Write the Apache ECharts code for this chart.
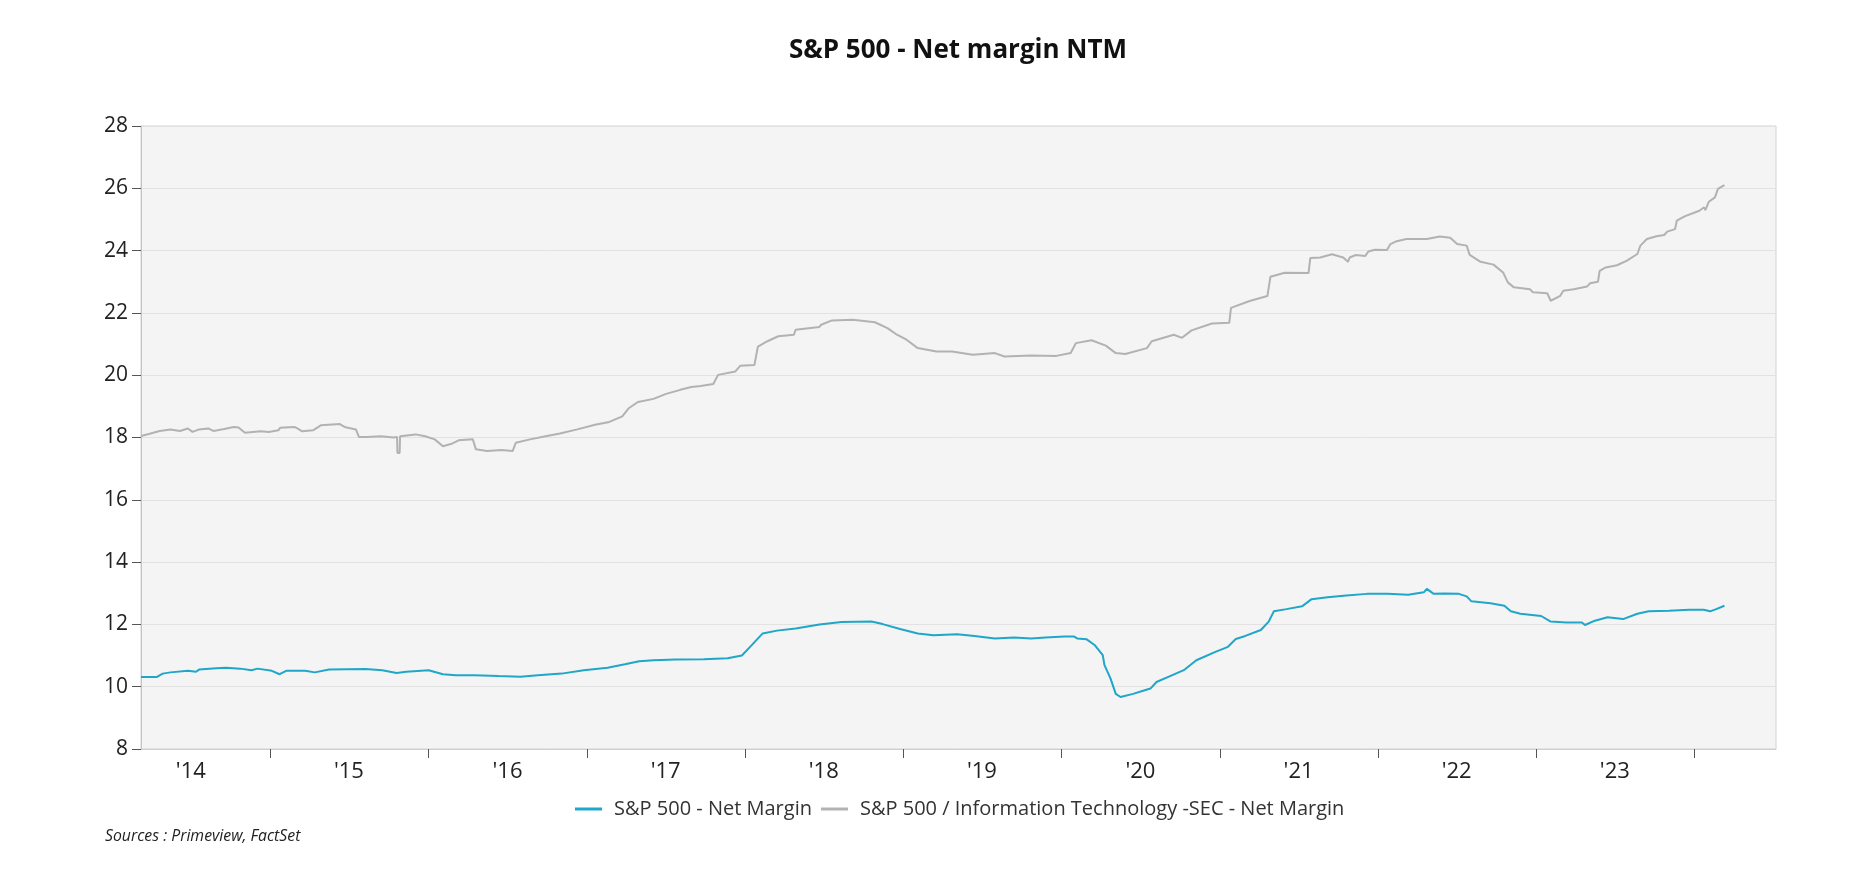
<!DOCTYPE html>
<html>
<head>
<meta charset="utf-8">
<script src="https://cdn.jsdelivr.net/npm/echarts@6/dist/echarts.min.js"></script>
<style>
html,body{margin:0;padding:0;background:#fff;}
#chart{width:1876px;height:886px;}
</style>
</head>
<body>
<div id="chart"></div>
<script>
// ---- Data ----
const titleText = 'S&P 500 - Net margin NTM';
const sourceText = 'Sources : Primeview, FactSet';
const seriesNames = ['S&P 500 - Net Margin', 'S&P 500 / Information Technology -SEC - Net Margin'];

const spDates = [
'2014-03-08','2014-04-13','2014-04-27','2014-05-15','2014-06-24','2014-07-13','2014-07-20','2014-08-29','2014-09-20','2014-10-23','2014-11-18','2014-12-02',
'2015-01-04','2015-01-22','2015-02-06','2015-03-22','2015-04-13','2015-05-16','2015-08-08','2015-09-16','2015-10-19','2015-11-10',
'2016-01-01','2016-02-03','2016-03-04','2016-04-16','2016-06-10','2016-07-31','2016-09-09','2016-11-03','2016-12-24',
'2017-02-17','2017-03-29','2017-05-01','2017-06-03','2017-07-24','2017-09-27','2017-11-21','2017-12-24',
'2018-01-12','2018-02-10','2018-03-15','2018-04-27','2018-06-21','2018-08-11','2018-10-19','2018-11-14','2018-12-24',
'2019-02-03','2019-03-11','2019-05-05','2019-06-14','2019-07-31','2019-09-13','2019-10-23','2019-11-25',
'2020-01-08','2020-01-30','2020-02-06','2020-02-28','2020-03-17','2020-04-05','2020-04-09','2020-04-23','2020-05-05','2020-05-16','2020-06-14','2020-07-09','2020-07-24','2020-08-07','2020-09-06','2020-10-09','2020-11-07','2020-12-21',
'2021-01-19','2021-02-06','2021-02-28','2021-04-05','2021-04-23','2021-05-05','2021-06-03','2021-07-09','2021-07-31','2021-09-06','2021-10-19','2021-12-06',
'2022-01-22','2022-03-11','2022-04-16','2022-04-23','2022-05-09','2022-06-03','2022-07-06','2022-07-24','2022-08-04','2022-09-17','2022-10-19','2022-11-03','2022-11-25',
'2023-01-12','2023-02-03','2023-03-11','2023-04-16','2023-04-23','2023-05-16','2023-06-14','2023-07-20','2023-08-22','2023-09-17','2023-11-03','2023-12-20',
'2024-01-22','2024-02-06','2024-02-20','2024-03-10'];
const spValues = [
10.31,10.31,10.42,10.46,10.51,10.48,10.55,10.59,10.61,10.58,10.53,10.58,
10.51,10.40,10.51,10.51,10.46,10.55,10.57,10.53,10.44,10.48,
10.53,10.40,10.37,10.37,10.34,10.32,10.37,10.42,10.53,
10.61,10.72,10.82,10.85,10.87,10.88,10.91,11.00,
11.28,11.71,11.80,11.87,12.00,12.08,12.09,12.01,11.85,
11.71,11.65,11.68,11.63,11.55,11.58,11.55,11.58,
11.61,11.61,11.55,11.52,11.34,11.01,10.69,10.26,9.77,9.67,9.77,9.88,9.94,10.15,10.33,10.53,10.85,11.12,
11.28,11.53,11.63,11.82,12.09,12.42,12.49,12.58,12.81,12.87,12.93,12.98,
12.98,12.95,13.03,13.14,12.98,12.99,12.98,12.90,12.74,12.68,12.60,12.42,12.34,
12.27,12.09,12.06,12.06,11.98,12.12,12.23,12.17,12.34,12.42,12.44,12.47,
12.47,12.42,12.49,12.60];

const itDates = [
'2014-03-08','2014-03-26','2014-04-20','2014-05-15','2014-06-06','2014-06-24','2014-07-05','2014-07-20','2014-08-10','2014-08-22','2014-09-16','2014-10-08','2014-10-19','2014-11-03','2014-11-21','2014-12-09','2014-12-28',
'2015-01-19','2015-01-23','2015-02-25','2015-03-04','2015-03-15','2015-04-09','2015-04-27','2015-06-10','2015-06-21','2015-07-17','2015-07-24','2015-08-11','2015-09-13','2015-10-12','2015-10-20','2015-10-21','2015-10-26','2015-10-27','2015-12-02','2015-12-24',
'2016-01-15','2016-02-03','2016-02-25','2016-03-10','2016-04-12','2016-04-19','2016-05-15','2016-06-17','2016-07-13','2016-07-20','2016-08-22','2016-09-27','2016-10-30','2016-12-09',
'2017-01-19','2017-02-21','2017-03-23','2017-04-06','2017-04-28','2017-06-03','2017-07-02','2017-08-04','2017-08-29','2017-09-20','2017-10-19','2017-10-30','2017-12-09','2017-12-20',
'2018-01-22','2018-01-30','2018-02-21','2018-03-18','2018-04-23','2018-04-27','2018-06-21','2018-06-25','2018-07-20','2018-09-06','2018-10-27','2018-11-25','2018-12-17',
'2019-01-08','2019-02-03','2019-03-18','2019-04-23','2019-06-10','2019-07-31','2019-08-22','2019-10-23','2019-12-20',
'2020-01-22','2020-02-03','2020-03-10','2020-04-12','2020-05-05','2020-05-27','2020-07-16','2020-07-27','2020-09-16','2020-10-05','2020-10-27','2020-12-13',
'2021-01-22','2021-01-26','2021-03-10','2021-04-20','2021-04-27','2021-05-30','2021-07-24','2021-07-28','2021-08-20','2021-09-16','2021-10-12','2021-10-23','2021-10-27','2021-11-10','2021-12-02','2021-12-09','2021-12-24',
'2022-01-21','2022-01-29','2022-02-10','2022-03-07','2022-04-23','2022-05-08','2022-05-23','2022-06-16','2022-07-02','2022-07-24','2022-07-31','2022-08-25','2022-09-24','2022-10-16','2022-10-27','2022-11-10','2022-12-17','2022-12-24',
'2023-01-26','2023-02-03','2023-02-25','2023-03-04','2023-03-28','2023-04-28','2023-05-05','2023-05-23','2023-05-27','2023-06-10','2023-07-06','2023-07-28','2023-08-22','2023-08-29','2023-09-13','2023-10-05','2023-10-23','2023-10-30','2023-11-17','2023-11-21','2023-12-09',
'2024-01-12','2024-01-23','2024-01-26','2024-02-03','2024-02-17','2024-02-24','2024-03-10'];
const itValues = [
18.05,18.11,18.21,18.26,18.21,18.29,18.18,18.26,18.29,18.21,18.27,18.34,18.32,18.15,18.18,18.20,18.18,
18.23,18.31,18.34,18.29,18.20,18.23,18.39,18.43,18.34,18.26,18.02,18.02,18.04,18.00,18.02,17.50,17.50,18.04,18.10,18.04,
17.94,17.72,17.81,17.91,17.94,17.62,17.57,17.60,17.57,17.83,17.94,18.04,18.13,18.26,
18.41,18.50,18.68,18.93,19.14,19.24,19.40,19.53,19.62,19.65,19.72,20.01,20.12,20.30,
20.33,20.92,21.09,21.25,21.30,21.46,21.55,21.62,21.76,21.78,21.70,21.51,21.30,
21.14,20.87,20.76,20.76,20.66,20.71,20.60,20.63,20.62,
20.71,21.03,21.12,20.95,20.71,20.68,20.87,21.09,21.30,21.20,21.44,21.66,
21.68,22.16,22.38,22.54,23.16,23.29,23.28,23.76,23.78,23.88,23.78,23.64,23.78,23.86,23.83,23.97,24.03,
24.02,24.21,24.29,24.37,24.37,24.41,24.45,24.41,24.21,24.16,23.86,23.64,23.55,23.30,22.98,22.82,22.76,22.66,
22.63,22.39,22.55,22.71,22.76,22.85,22.95,23.00,23.35,23.46,23.53,23.67,23.89,24.16,24.37,24.46,24.50,24.61,24.69,24.96,25.10,
25.28,25.39,25.30,25.57,25.71,25.98,26.10];

const xStart = '2014-03-08';
const xEnd = '2024-07-07';
const tickYears = [2015,2016,2017,2018,2019,2020,2021,2022,2023,2024];
const labelYears = [2014,2015,2016,2017,2018,2019,2020,2021,2022,2023];
const yearLabels = ["'14","'15","'16","'17","'18","'19","'20","'21","'22","'23"];
const yMin = 8, yMax = 28, yStep = 2;

// ---- Build ----
function ts(s){ const p = s.split('-').map(Number); return new Date(p[0], p[1]-1, p[2]).getTime(); }
const spData = spDates.map((d,i)=>[ts(d), spValues[i]]);
const itData = itDates.map((d,i)=>[ts(d), itValues[i]]);
const tickTs = tickYears.map(y=>new Date(y,0,1).getTime());
const labelTs = labelYears.map(y=>new Date(y,6,1).getTime());

const FONT = "'Open Sans', 'Noto Sans', sans-serif";
const chart = echarts.init(document.getElementById('chart'), null, {renderer:'canvas'});
chart.setOption({
  animation:false,
  backgroundColor:'#ffffff',
  title:{
    text:titleText, left:958, top:38, textAlign:'center', padding:0,
    textStyle:{fontFamily:FONT, fontSize:26, fontWeight:'bold', color:'#111'}
  },
  legend:{
    left:575, top:799, padding:0, icon:'rect', itemWidth:27, itemHeight:3, itemGap:9,
    textStyle:{fontFamily:FONT, fontSize:20, color:'#333', padding:[0,0,0,7]},
    data:seriesNames
  },
  graphic:[{
    type:'text', left:105, top:828,
    style:{text:sourceText, fontFamily:FONT, fontSize:15.8, fontStyle:'italic', fill:'#222'}
  }],
  grid:{left:141, right:100, top:126, bottom:137, show:true, backgroundColor:'#f4f4f4', borderColor:'#d2d2d2', borderWidth:1, containLabel:false},
  xAxis:{
    type:'value', min:ts(xStart), max:ts(xEnd),
    axisLine:{show:true, lineStyle:{color:'#cfcfcf', width:1}},
    axisTick:{show:true, customValues:tickTs, length:9, lineStyle:{color:'#555'}},
    axisLabel:{show:true, customValues:labelTs, margin:12, fontFamily:FONT, fontSize:22, color:'#222',
      formatter:function(v){ const y=new Date(v).getFullYear(); const i=labelYears.indexOf(y); return i>=0?yearLabels[i]:''; }},
    splitLine:{show:false}
  },
  yAxis:{
    type:'value', min:yMin, max:yMax, interval:yStep,
    axisLine:{show:true, lineStyle:{color:'#c4c4c4'}},
    axisTick:{show:true, length:9, lineStyle:{color:'#555'}},
    axisLabel:{margin:13, fontFamily:FONT, fontSize:21, color:'#222'},
    splitLine:{show:true, lineStyle:{color:'#e2e2e2', width:1}}
  },
  series:[
    {name:seriesNames[0], type:'line', data:spData, showSymbol:false, symbol:'none', lineStyle:{width:2, color:'#1fa6c8'}, itemStyle:{color:'#1fa6c8'}, z:3},
    {name:seriesNames[1], type:'line', data:itData, showSymbol:false, symbol:'none', lineStyle:{width:2, color:'#b2b2b2'}, itemStyle:{color:'#b2b2b2'}, z:2}
  ]
});
</script>
</body>
</html>
